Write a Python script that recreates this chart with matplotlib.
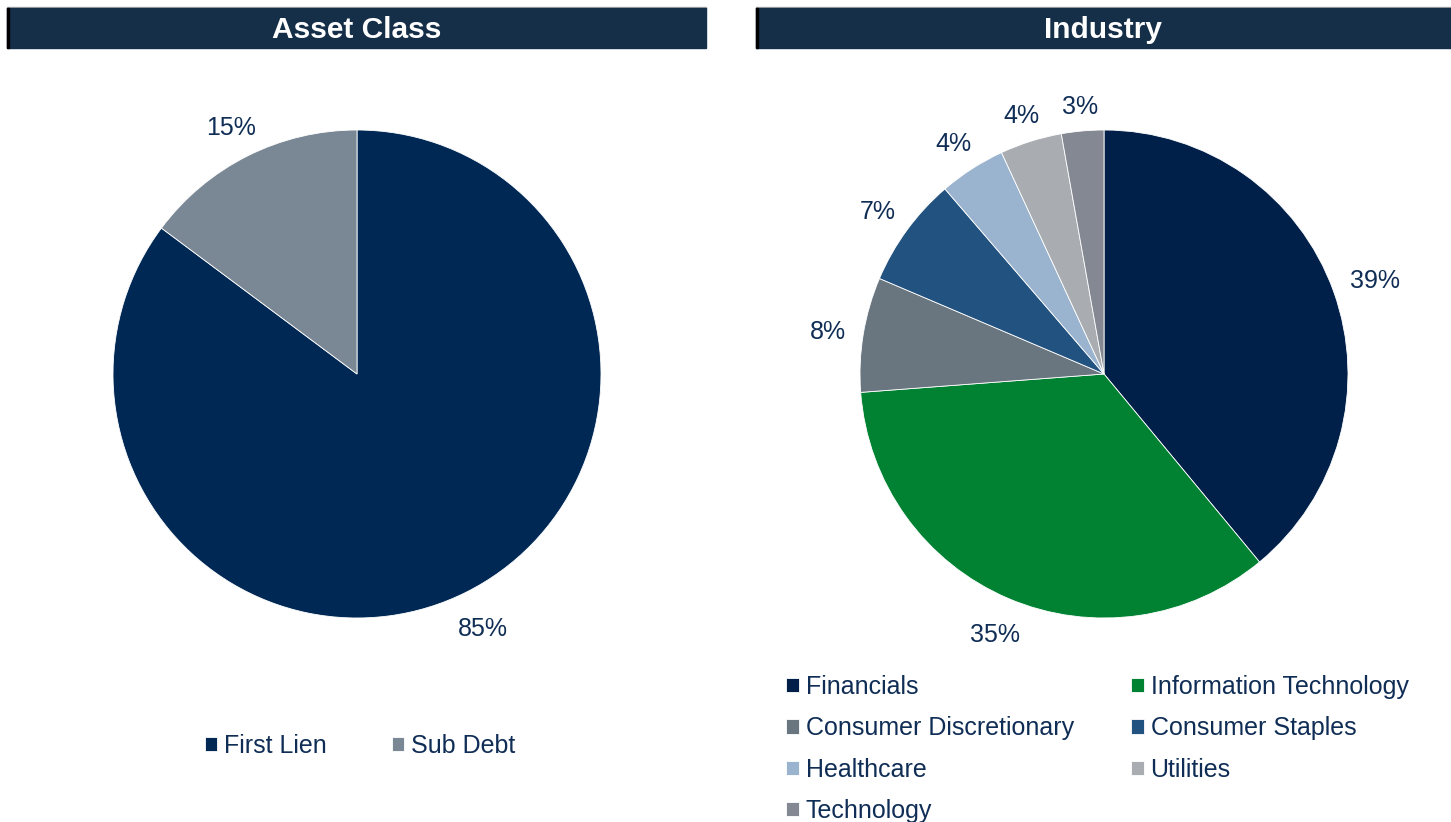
import matplotlib
matplotlib.use("Agg")
import numpy as np
import matplotlib.pyplot as plt
from matplotlib.patches import Rectangle

# ---- data ----
asset_labels = ["First Lien", "Sub Debt"]
asset_values = [85.2, 14.8]
asset_colors = ["#002855", "#7a8795"]

industry_labels = ["Financials", "Information Technology", "Consumer Discretionary",
                   "Consumer Staples", "Healthcare", "Utilities", "Technology"]
industry_values = [39.0, 34.8, 7.6, 7.3, 4.4, 4.1, 2.8]
industry_colors = ["#00204a", "#008232", "#69757f", "#22527f", "#9ab3cf", "#a9adb1", "#848892"]

titles = ["Asset Class", "Industry"]

W, H = 1451, 822
TXT = "#0f2d55"
HDR = "#162f48"

plt.rcParams['font.family'] = ['Liberation Sans', 'DejaVu Sans']

fig = plt.figure(figsize=(W / 100, H / 100), dpi=100)


def px_axes(cx, cy, r):
    return fig.add_axes([(cx - r) / W, 1 - (cy + r) / H, 2 * r / W, 2 * r / H])


def header(x0, x1, title):
    fig.patches.append(Rectangle((x0 / W, 1 - 9 / H), (x1 - x0) / W, 1.5 / H,
                                 transform=fig.transFigure, color="#b0b0b0", zorder=1))
    fig.patches.append(Rectangle((x0 / W, 1 - 48 / H), (x1 - x0) / W, 39.5 / H,
                                 transform=fig.transFigure, color=HDR, zorder=2))
    fig.patches.append(Rectangle((x0 / W, 1 - 48 / H), 2 / W, 39.5 / H,
                                 transform=fig.transFigure, color="#000000", zorder=3))
    fig.text((x0 + x1) / 2 / W, 1 - 29.5 / H, title, ha="center", va="center",
             color="white", fontsize=21.5, fontweight="bold", zorder=4)


header(7, 706, titles[0])
header(756, 1451, titles[1])

R = 244


def fmt(p):
    return f"{p:.0f}%"


def make_pie(ax, values, colors):
    wedges, _, texts = ax.pie(values, colors=colors, startangle=90, counterclock=False,
                              autopct=fmt, pctdistance=1.15, radius=1,
                              wedgeprops=dict(edgecolor="white", linewidth=0.6),
                              textprops=dict(color=TXT, fontsize=18))
    ax.set_xlim(-1, 1)
    ax.set_ylim(-1, 1)
    ax.set_aspect("equal")
    ax.axis("off")
    return wedges, texts


ax1 = px_axes(357, 374, R)
w1, t1 = make_pie(ax1, asset_values, asset_colors)
ax2 = px_axes(1104, 374, R)
w2, t2 = make_pie(ax2, industry_values, industry_colors)

# place labels "outside end": nearest edge of the label a fixed gap from the rim
fig.canvas.draw()
renderer = fig.canvas.get_renderer()
GAP = 17.0
CAP_H = 18.0
for wedges, texts in ((w1, t1), (w2, t2)):
    for wd, tx in zip(wedges, texts):
        ang = np.deg2rad((wd.theta1 + wd.theta2) / 2)
        c, s = np.cos(ang), np.sin(ang)
        bw = tx.get_window_extent(renderer).width
        d = R + GAP + (bw / 2) * abs(c) + (CAP_H / 2) * abs(s)
        tx.set_position((d / R * c, d / R * s - 4.0 / R))
        tx.set_va("center")
        tx.set_ha("center")

fig.legend(w1, asset_labels, loc="center", bbox_to_anchor=(360 / W, 1 - 746 / H),
           ncol=2, frameon=False, fontsize=18, handlelength=0.5, handleheight=0.5,
           handletextpad=0.28, columnspacing=2.6, labelcolor=TXT, borderpad=0)

# legend filled row by row (matplotlib fills columns first)
order = [0, 2, 4, 6, 1, 3, 5]
fig.legend([w2[i] for i in order], [industry_labels[i] for i in order],
           loc="upper left", bbox_to_anchor=(786 / W, 1 - 675 / H),
           ncol=2, frameon=False, fontsize=18, handlelength=0.5, handleheight=0.5,
           handletextpad=0.28, columnspacing=2.3, labelspacing=0.69, labelcolor=TXT,
           borderpad=0, borderaxespad=0)

fig.savefig("out.png", dpi=100)
